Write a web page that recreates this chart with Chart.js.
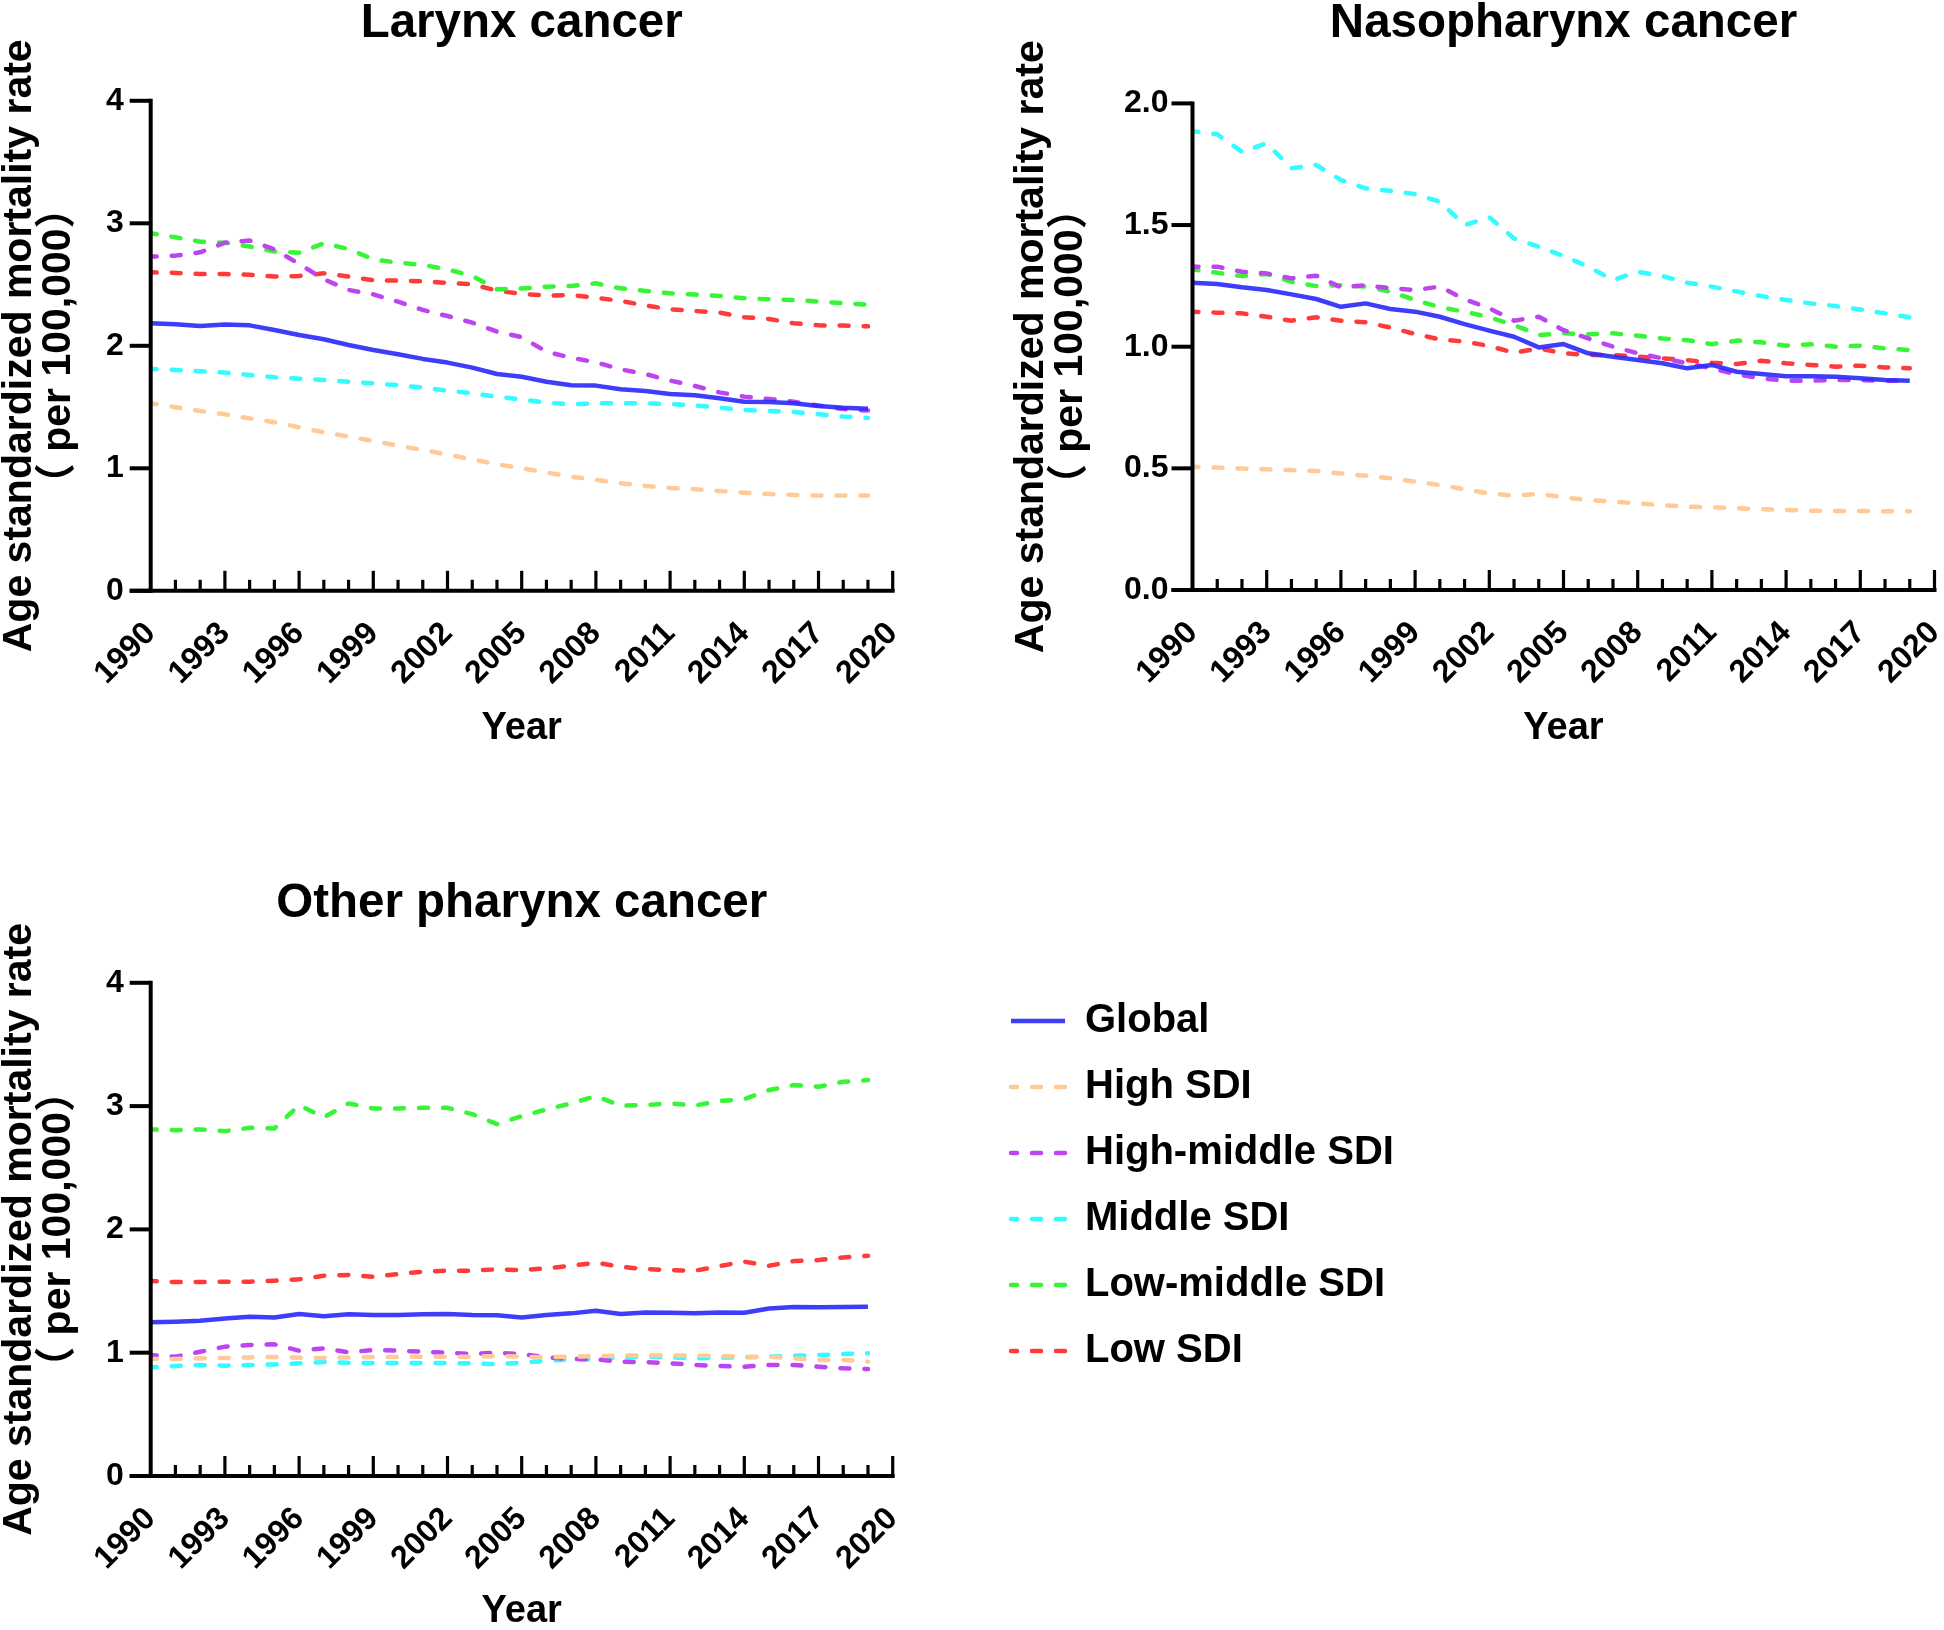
<!DOCTYPE html>
<html><head><meta charset="utf-8">
<script src="https://cdn.jsdelivr.net/npm/chart.js@4.4.1/dist/chart.umd.min.js"></script>
<style>
html,body{margin:0;padding:0;background:#fff;overflow:hidden;width:1944px;height:1630px}
#wrap{position:relative;width:1944px;height:1630px;overflow:hidden;background:#fff}
canvas{position:absolute;display:block}
</style></head><body><div id="wrap">
<canvas id="c1" width="972" height="760" style="left:0;top:0"></canvas>
<canvas id="c2" width="1000" height="760" style="left:972px;top:0"></canvas>
<canvas id="c3" width="972" height="820" style="left:0;top:820px"></canvas>
<canvas id="c4" width="900" height="480" style="left:985px;top:975px"></canvas>
</div>
<script>
// ---------- DATA ----------
const years = [1990,1991,1992,1993,1994,1995,1996,1997,1998,1999,2000,2001,2002,2003,2004,2005,2006,2007,2008,2009,2010,2011,2012,2013,2014,2015,2016,2017,2018,2019];
const seriesNames = ['Global','High SDI','High-middle SDI','Middle SDI','Low-middle SDI','Low SDI'];

const larynxGlobal  = [2.184,2.176,2.162,2.173,2.167,2.129,2.088,2.053,2.007,1.966,1.931,1.893,1.863,1.822,1.770,1.748,1.707,1.678,1.675,1.645,1.631,1.607,1.596,1.571,1.544,1.542,1.531,1.509,1.495,1.487];
const larynxHigh    = [1.531,1.498,1.468,1.441,1.408,1.376,1.335,1.294,1.259,1.223,1.185,1.150,1.112,1.073,1.033,1.000,0.965,0.932,0.905,0.878,0.856,0.840,0.829,0.815,0.801,0.790,0.782,0.777,0.777,0.777];
const larynxHighMid = [2.728,2.736,2.763,2.842,2.859,2.788,2.668,2.543,2.456,2.420,2.360,2.293,2.243,2.189,2.116,2.070,1.952,1.903,1.865,1.808,1.770,1.716,1.672,1.620,1.585,1.566,1.544,1.512,1.484,1.471];
const larynxMiddle  = [1.811,1.803,1.792,1.781,1.762,1.743,1.732,1.721,1.707,1.694,1.678,1.659,1.634,1.612,1.585,1.563,1.536,1.522,1.531,1.531,1.531,1.525,1.512,1.495,1.476,1.468,1.460,1.441,1.422,1.411];
const larynxLowMid  = [2.918,2.886,2.850,2.842,2.810,2.770,2.760,2.837,2.790,2.706,2.679,2.660,2.624,2.570,2.461,2.467,2.483,2.488,2.510,2.469,2.448,2.429,2.418,2.407,2.388,2.380,2.374,2.361,2.347,2.336];
const larynxLow     = [2.600,2.595,2.586,2.586,2.580,2.565,2.570,2.592,2.565,2.535,2.532,2.527,2.513,2.502,2.450,2.423,2.410,2.415,2.393,2.366,2.330,2.298,2.284,2.271,2.233,2.219,2.184,2.167,2.165,2.159];

const nasoGlobal  = [1.263,1.258,1.244,1.233,1.215,1.196,1.164,1.178,1.155,1.144,1.123,1.093,1.066,1.041,0.997,1.011,0.973,0.959,0.945,0.932,0.911,0.925,0.897,0.888,0.879,0.879,0.877,0.870,0.863,0.860];
const nasoHigh    = [0.507,0.503,0.499,0.496,0.493,0.489,0.479,0.470,0.459,0.445,0.432,0.414,0.397,0.388,0.395,0.381,0.370,0.363,0.356,0.349,0.342,0.340,0.336,0.332,0.329,0.326,0.325,0.325,0.324,0.324];
const nasoHighMid = [1.329,1.329,1.308,1.301,1.281,1.292,1.244,1.253,1.240,1.233,1.247,1.195,1.158,1.107,1.123,1.068,1.034,1.000,0.973,0.952,0.932,0.911,0.886,0.870,0.860,0.860,0.863,0.863,0.860,0.860];
const nasoMiddle  = [1.886,1.873,1.801,1.836,1.733,1.747,1.685,1.651,1.641,1.627,1.596,1.500,1.532,1.445,1.411,1.373,1.329,1.274,1.308,1.290,1.263,1.247,1.227,1.208,1.192,1.178,1.167,1.153,1.137,1.121];
const nasoLowMid  = [1.318,1.304,1.290,1.299,1.267,1.249,1.253,1.247,1.226,1.192,1.162,1.144,1.121,1.089,1.048,1.055,1.051,1.055,1.045,1.034,1.027,1.010,1.025,1.018,1.004,1.010,1.000,1.004,0.993,0.986];
const nasoLow     = [1.144,1.140,1.137,1.123,1.107,1.121,1.107,1.100,1.079,1.052,1.030,1.021,1.003,0.975,0.993,0.973,0.966,0.966,0.959,0.952,0.945,0.934,0.929,0.942,0.932,0.925,0.918,0.922,0.915,0.911];

const otherGlobal  = [1.246,1.251,1.259,1.278,1.292,1.286,1.314,1.295,1.311,1.305,1.305,1.311,1.314,1.305,1.303,1.286,1.305,1.319,1.341,1.314,1.327,1.324,1.319,1.327,1.324,1.359,1.370,1.368,1.370,1.373];
const otherHigh    = [0.949,0.949,0.954,0.957,0.962,0.965,0.959,0.957,0.962,0.965,0.965,0.968,0.968,0.968,0.973,0.968,0.962,0.968,0.973,0.976,0.978,0.978,0.976,0.973,0.968,0.968,0.954,0.941,0.941,0.927];
const otherHighMid = [0.981,0.968,1.008,1.049,1.062,1.068,1.016,1.035,1.003,1.022,1.016,1.008,1.000,0.989,1.000,0.989,0.962,0.949,0.946,0.927,0.924,0.914,0.900,0.892,0.886,0.900,0.900,0.886,0.873,0.868];
const otherMiddle  = [0.881,0.892,0.900,0.895,0.900,0.905,0.914,0.924,0.919,0.916,0.916,0.916,0.916,0.914,0.908,0.919,0.935,0.946,0.946,0.962,0.968,0.962,0.954,0.962,0.962,0.968,0.976,0.981,0.989,0.995];
const otherLowMid  = [2.811,2.805,2.811,2.797,2.824,2.819,3.008,2.908,3.022,2.981,2.981,2.986,2.986,2.935,2.854,2.919,2.973,3.022,3.081,3.003,3.008,3.022,3.005,3.041,3.057,3.130,3.170,3.157,3.197,3.211];
const otherLow     = [1.581,1.573,1.573,1.576,1.576,1.584,1.595,1.624,1.630,1.616,1.638,1.657,1.665,1.665,1.676,1.670,1.684,1.705,1.730,1.697,1.678,1.670,1.665,1.703,1.738,1.705,1.743,1.751,1.773,1.786];

// ---------- STYLE ----------
const FONT = "'Liberation Sans', Arial, 'Noto Sans CJK SC', sans-serif";
Chart.defaults.font.family = FONT;
Chart.defaults.color = '#000';
Chart.defaults.animation = false;

const colors = ['rgba(45,45,250,0.92)','#FFCA98','#BD45EF','#33FBFF','#37F437','#FF3A3A'];

function makeDatasets(arrs) {
  return arrs.map((arr, i) => ({
    label: seriesNames[i],
    data: arr.map((v, k) => ({x: years[k], y: v})),
    borderColor: colors[i],
    backgroundColor: colors[i],
    borderWidth: 4.5,
    borderDash: i === 0 ? [] : [9, 15],
    borderDashOffset: i === 0 ? 0 : 3,
    borderCapStyle: i === 0 ? 'butt' : 'round',
    borderJoinStyle: 'round',
    pointRadius: 0,
    tension: 0,
    fill: false
  }));
}

const axisPlugin = {
  id: 'prismAxes',
  afterDatasetsDraw(chart) {
    const xs = chart.scales.x, ys = chart.scales.y;
    if (!xs || !ys || !xs.options.display) return;
    const ctx = chart.ctx;
    const x0 = xs.getPixelForValue(xs.min), x1 = xs.getPixelForValue(xs.max);
    const y0 = ys.getPixelForValue(ys.min), y1 = ys.getPixelForValue(ys.max);
    ctx.save();
    ctx.strokeStyle = '#000';
    ctx.lineCap = 'butt';
    ctx.lineWidth = 4;
    ctx.beginPath(); ctx.moveTo(x0, y0 + 2); ctx.lineTo(x0, y1 - 2); ctx.stroke();
    ys.ticks.forEach(t => {
      const y = ys.getPixelForValue(t.value);
      ctx.beginPath(); ctx.moveTo(x0 - 21, y); ctx.lineTo(x0, y); ctx.stroke();
    });
    ctx.beginPath(); ctx.moveTo(x0 - 21, y0); ctx.lineTo(x1 + 2, y0); ctx.stroke();
    ctx.lineWidth = 3.2;
    for (let yr = xs.min + 1; yr <= xs.max; yr++) {
      const x = xs.getPixelForValue(yr);
      const len = ((yr - xs.min) % 3 === 0) ? 20 : 11;
      ctx.beginPath(); ctx.moveTo(x, y0); ctx.lineTo(x, y0 - len); ctx.stroke();
    }
    ctx.restore();
  }
};

function makePanel(id, title, arrs, yMax, yStep, yDec, g) {
  return new Chart(document.getElementById(id), {
    type: 'line',
    data: { datasets: makeDatasets(arrs) },
    plugins: [axisPlugin],
    options: {
      responsive: false,
      animation: false,
      layout: { padding: { left: 0, right: g.padRight, top: 0, bottom: 0 } },
      plugins: {
        legend: { display: false },
        tooltip: { enabled: false },
        title: {
          display: true, text: title, fullSize: false,
          font: { size: 47.5, weight: 'bold', lineHeight: 1 },
          color: '#000',
          padding: { top: g.titleTop, bottom: g.titleBottom }
        }
      },
      scales: {
        x: {
          type: 'linear', min: 1990, max: 2020,
          grid: { display: false, drawTicks: false },
          border: { display: false },
          ticks: {
            stepSize: 3, autoSkip: false, minRotation: 45, maxRotation: 45,
            padding: g.xTickPad, color: '#000',
            font: { size: 32, weight: 'bold' },
            callback: v => String(v)
          },
          title: {
            display: true, text: 'Year', color: '#000',
            font: { size: 38, weight: 'bold', lineHeight: 1 },
            padding: { top: 0, bottom: g.xTitleBottom }
          },
          afterFit: s => { s.height = g.xh; s.paddingLeft = 0; s.paddingRight = 0; }
        },
        y: {
          min: 0, max: yMax,
          grid: { display: false, drawTicks: false },
          border: { display: false },
          ticks: {
            stepSize: yStep, padding: g.yTickPad, color: '#000',
            font: { size: 32, weight: 'bold' },
            callback: v => Number(v).toFixed(yDec)
          },
          title: {
            display: true, color: '#000',
            text: ['Age standardized mortality rate', '（ per 100,000）'],
            font: { size: 41, weight: 'bold', lineHeight: 0.95 },
            padding: { top: g.yTitleTop, bottom: 0 }
          },
          afterFit: s => { s.width = g.yw; s.paddingTop = 0; s.paddingBottom = 0; }
        }
      }
    }
  });
}

const T = 47.5;
makePanel('c1', 'Larynx cancer',
  [larynxGlobal, larynxHigh, larynxHighMid, larynxMiddle, larynxLowMid, larynxLow], 4, 1, 0,
  { yw: 150.7, padRight: 79.3, titleTop: 0, titleBottom: 100.8 - T, xh: 169.2, xTickPad: 24, xTitleBottom: 12, yTickPad: 27, yTitleTop: 0 });

makePanel('c2', 'Nasopharynx cancer',
  [nasoGlobal, nasoHigh, nasoHighMid, nasoMiddle, nasoLowMid, nasoLow], 2, 0.5, 1,
  { yw: 220.5, padRight: 37.5, titleTop: 0, titleBottom: 103.4 - T, xh: 170, xTickPad: 24, xTitleBottom: 12, yTickPad: 24, yTitleTop: 40 });

makePanel('c3', 'Other pharynx cancer',
  [otherGlobal, otherHigh, otherHighMid, otherMiddle, otherLowMid, otherLow], 4, 1, 0,
  { yw: 150.7, padRight: 79.3, titleTop: 60.5, titleBottom: 162.8 - T - 60.5, xh: 164, xTickPad: 24, xTitleBottom: 9, yTickPad: 27, yTitleTop: 0 });

// Legend panel
new Chart(document.getElementById('c4'), {
  type: 'line',
  data: { datasets: makeDatasets([[], [], [], [], [], []]) },
  options: {
    responsive: false,
    animation: false,
    layout: { padding: 0 },
    scales: { x: { display: false }, y: { display: false } },
    plugins: {
      tooltip: { enabled: false },
      title: { display: false },
      legend: {
        display: true, position: 'left', align: 'start',
        labels: {
          usePointStyle: true, pointStyle: 'line', pointStyleWidth: 54,
          padding: 26, color: '#000',
          font: { size: 40, weight: 'bold', lineHeight: 1 },
          generateLabels: chart => {
            const items = Chart.defaults.plugins.legend.labels.generateLabels(chart);
            items.forEach(it => {
              const ds = chart.data.datasets[it.datasetIndex];
              it.lineDash = ds.borderDash;
              it.lineDashOffset = ds.borderDashOffset;
              it.lineCap = ds.borderCapStyle;
              it.lineWidth = ds.borderWidth;
              it.strokeStyle = ds.borderColor;
              it.pointStyle = 'line';
            });
            return items;
          }
        }
      }
    }
  }
});
</script>
</body></html>
